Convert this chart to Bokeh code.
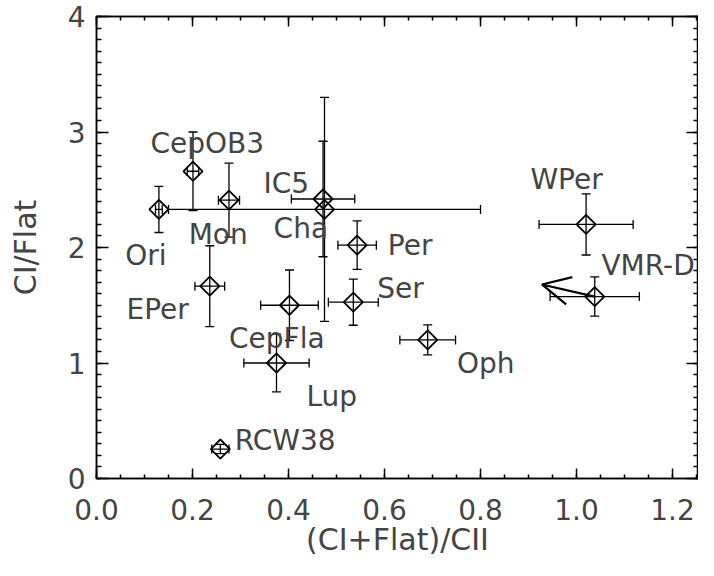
import numpy as np
from bokeh.plotting import figure
from bokeh.models import (Range1d, LinearAxis, SingleIntervalTicker, PrintfTickFormatter,
                          ColumnDataSource, Whisker, TeeHead, Arrow, OpenHead,
                          CustomJSTickFormatter)
from bokeh.core.properties import value
from bokeh.embed import file_html
from bokeh.resources import INLINE

# ---- data ----
names = ["Ori", "CepOB3", "Mon", "IC5", "Cha", "EPer", "CepFla", "Lup",
         "RCW38", "Per", "Ser", "Oph", "WPer", "VMR-D"]
ratio_x = [0.130, 0.201, 0.276, 0.472, 0.475, 0.236, 0.402, 0.375,
           0.258, 0.543, 0.535, 0.690, 1.020, 1.038]
ratio_y = [2.33, 2.66, 2.41, 2.42, 2.33, 1.665, 1.50, 1.00,
           0.255, 2.02, 1.527, 1.20, 2.20, 1.575]
err_x = [0.007, 0.012, 0.022, 0.066, 0.325, 0.031, 0.060, 0.068,
         0.018, 0.040, 0.052, 0.058, 0.098, 0.093]
err_y = [0.20, 0.34, 0.32, 0.50, 0.97, 0.35, 0.305, 0.25,
         0.04, 0.21, 0.20, 0.13, 0.265, 0.17]
label_x = [0.060, 0.1125, 0.192, 0.348, 0.369, 0.0625, 0.276, 0.4375,
           0.288, 0.607, 0.585, 0.751, 0.904, 1.052]
label_y = [1.928, 2.903, 2.112, 2.555, 2.168, 1.462, 1.216, 0.713,
           0.332, 2.013, 1.646, 0.996, 2.592, 1.843]
arrow_start = [1.038, 1.575]
arrow_end = [0.928, 1.68]
x_title = "(CI+Flat)/CII"
y_title = "CI/Flat"
x_ticks_interval = 0.2
y_ticks_interval = 1
y_min, y_max = 0, 4

x = np.array(ratio_x)
y = np.array(ratio_y)
ex = np.array(err_x)
ey = np.array(err_y)

src = ColumnDataSource(dict(x=x, y=y, xlo=x - ex, xhi=x + ex, ylo=y - ey, yhi=y + ey))

FONT = "DejaVu Sans"
TXT = "#444444"

W, H = 698, 560
BL, BR, BT, BB = 96, 0, 16, 82
x_end = (W - BL - BR) / 480.0

p = figure(width=W, height=H, x_range=Range1d(0, x_end), y_range=Range1d(y_min, y_max),
           output_backend="svg", toolbar_location=None,
           min_border_left=BL, min_border_right=BR, min_border_top=BT, min_border_bottom=BB)
p.grid.visible = False
p.outline_line_color = "black"
p.outline_line_width = 1.5
p.background_fill_color = "white"
p.border_fill_color = "white"


def style_axis(ax, major_in, minor_in):
    ax.major_tick_in = major_in
    ax.major_tick_out = 0
    ax.minor_tick_in = minor_in
    ax.minor_tick_out = 0
    ax.axis_line_color = "black"
    ax.axis_line_width = 1.5
    ax.major_tick_line_color = "black"
    ax.major_tick_line_width = 1.5
    ax.minor_tick_line_color = "black"
    ax.minor_tick_line_width = 1.5
    ax.major_label_text_font = FONT
    ax.major_label_text_font_size = "28px"
    ax.major_label_text_color = TXT
    ax.axis_label_text_font = FONT
    ax.axis_label_text_font_style = "normal"
    ax.axis_label_text_font_size = "30px"
    ax.axis_label_text_color = TXT


xax = p.xaxis[0]
xax.ticker = SingleIntervalTicker(interval=x_ticks_interval, num_minor_ticks=4)
xax.formatter = PrintfTickFormatter(format="%.1f")
style_axis(xax, 10, 4)
xax.major_label_standoff = 20
xax.axis_label = x_title
xax.axis_label_standoff = -1

yax = p.yaxis[0]
yax.ticker = SingleIntervalTicker(interval=y_ticks_interval, num_minor_ticks=10)
style_axis(yax, 12, 5)
yax.major_label_standoff = 11
yax.axis_label = y_title
yax.axis_label_standoff = 22

blank = CustomJSTickFormatter(code="return ''")
top = LinearAxis(ticker=SingleIntervalTicker(interval=x_ticks_interval, num_minor_ticks=4),
                 formatter=blank)
style_axis(top, 10, 4)
top.major_label_text_font_size = "0px"
top.major_label_standoff = 0
p.add_layout(top, "above")

right = LinearAxis(ticker=SingleIntervalTicker(interval=y_ticks_interval, num_minor_ticks=10),
                   formatter=blank)
style_axis(right, 12, 5)
right.major_label_text_font_size = "0px"
right.major_label_standoff = 0
p.add_layout(right, "right")

# error bars
p.add_layout(Whisker(source=src, base="x", lower="ylo", upper="yhi", dimension="height",
                     line_color="black", line_width=1.3,
                     upper_head=TeeHead(size=9, line_color="black", line_width=1.3),
                     lower_head=TeeHead(size=9, line_color="black", line_width=1.3)))
p.add_layout(Whisker(source=src, base="y", lower="xlo", upper="xhi", dimension="width",
                     line_color="black", line_width=1.3,
                     upper_head=TeeHead(size=9, line_color="black", line_width=1.3),
                     lower_head=TeeHead(size=9, line_color="black", line_width=1.3)))

# diamonds
p.scatter("x", "y", source=src, marker="square", size=13.5, angle=np.pi / 4,
          fill_color=None, line_color="black", line_width=1.8)

# labels
p.text(x=label_x, y=label_y, text=names, text_font=value(FONT), text_font_size="28px",
       text_color=TXT, text_align="left", text_baseline="alphabetic")

# arrow
p.add_layout(Arrow(end=OpenHead(size=28, line_width=2.2, line_color="black"),
                   x_start=arrow_start[0], y_start=arrow_start[1],
                   x_end=arrow_end[0], y_end=arrow_end[1],
                   line_width=2.2, line_color="black"))

open("out.html", "w").write(file_html(p, INLINE))
